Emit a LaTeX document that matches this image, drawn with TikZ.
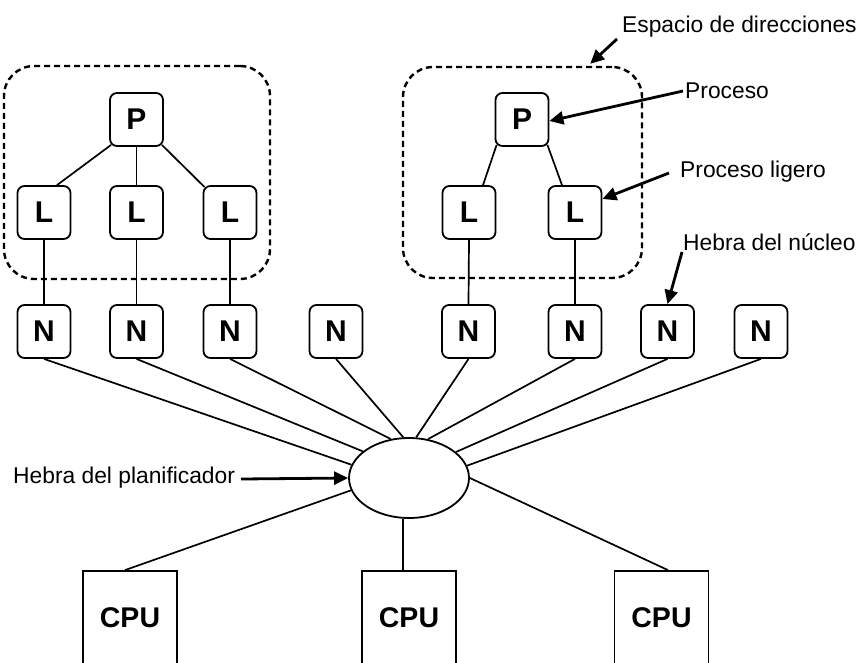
\documentclass[tikz,border=0pt]{standalone}
\usepackage{fontspec}
\setmainfont{Liberation Sans}
\usetikzlibrary{shapes.geometric,arrows.meta,calc}

\begin{document}
\begin{tikzpicture}[x=1pt,y=-1pt,
  wire/.style={line width=1.7pt},
  letterbox/.style={draw, line width=1.8pt, rounded corners=7pt,
    minimum width=53pt, minimum height=53pt, inner sep=0pt,
    font=\bfseries\fontsize{30}{30}\selectfont},
  cpubox/.style={draw, line width=1.8pt, minimum width=94pt,
    minimum height=94pt, inner sep=0pt,
    font=\bfseries\fontsize{28.5}{28.5}\selectfont},
  sched/.style={draw, ellipse, line width=1.8pt, minimum width=120pt,
    minimum height=80pt, inner sep=0pt},
  addrspace/.style={draw, line width=2.4pt, dash pattern=on 6pt off 4pt,
    rounded corners=30pt, inner sep=0pt},
  pointer/.style={line width=2.8pt, -{Triangle[length=14pt,width=13pt]}},
  lbl/.style={anchor=base west, inner sep=0pt,
    font=\fontsize{22.8}{27}\selectfont}
]
\useasboundingbox (0,0) rectangle (862,662);
\clip (0,0) rectangle (862,662);

% address spaces
\node[addrspace, minimum width=266pt, minimum height=213pt] (as1) at (137,172.5) {};
\node[addrspace, minimum width=239pt, minimum height=211pt] (as2) at (522.5,172.5) {};

% processes and light-weight processes
\node[letterbox] (P1) at (136.5,119.5) {P};
\node[letterbox] (L1) at (44,212.5) {L};
\node[letterbox] (L2) at (136.5,212.5) {L};
\node[letterbox] (L3) at (230,212.5) {L};

\node[letterbox] (P2) at (522,119.5) {P};
\node[letterbox] (L4) at (469,212.5) {L};
\node[letterbox] (L5) at (575,212.5) {L};

% kernel threads
\foreach \i/\x in {1/44, 2/136.5, 3/230, 4/336, 5/468.5, 6/575, 7/667.5, 8/761}
  \node[letterbox] (N\i) at (\x,331.5) {N};

% scheduler thread
\node[sched] (ell) at (409,478) {};

% processors
\node[cpubox] (CPU1) at (130,618) {CPU};
\node[cpubox] (CPU2) at (409,618) {CPU};
\node[cpubox] (CPU3) at (661.5,618) {CPU};

% process tree edges
\draw[wire] ([shift={(2pt,2pt)}]P1.south west) -- ([xshift=13pt]L1.north);
\draw[wire] (P1.south) -- (L2.north);
\draw[wire] ([shift={(-2pt,2pt)}]P1.south east) -- ([shift={(2pt,-2pt)}]L3.north west);
\draw[wire] ([shift={(2pt,2pt)}]P2.south west) -- ([xshift=14pt]L4.north);
\draw[wire] ([shift={(-2pt,2pt)}]P2.south east) -- ([xshift=-13pt]L5.north);

% LWP to kernel thread bindings
\draw[wire] (L1.south) -- (N1.north);
\draw[wire] (L2.south) -- (N2.north);
\draw[wire] (L3.south) -- (N3.north);
\draw[wire] (L4.south) -- (N5.north);
\draw[wire] (L5.south) -- (N6.north);

% kernel threads to scheduler
\foreach \i/\a in {1/167.6, 2/150.5, 3/115.4, 4/98, 5/80, 6/64.6, 7/29.5, 8/12.4}
  \draw[wire] (N\i.south) -- (ell.\a);

% scheduler to processors
\draw[wire] (ell.192.4) -- ([xshift=-5pt]CPU1.north);
\draw[wire] ([xshift=-6pt]ell.south) -- ([xshift=-6pt]CPU2.north);
\draw[wire] (ell.east) -- ([xshift=6.5pt]CPU3.north);

% captions
\node[lbl] (tEsp) at (622,32) {Espacio de direcciones};
\node[lbl] (tProc) at (685,98) {Proceso};
\node[lbl] (tLig) at (680,177) {Proceso ligero};
\node[lbl] (tNuc) at (683,250) {Hebra del núcleo};
\node[lbl] (tPlan) at (13,483) {Hebra del planificador};

\coordinate (aEsp) at (617,39);
\coordinate (aProc) at (683,91);
\coordinate (aLig) at (669,173);
\coordinate (aNuc) at (682,252);
\coordinate (aPlan) at (241,479);

\draw[pointer] (aEsp) -- ($(as2.north east)+(-53,-2)$);
\draw[pointer] (aProc) -- ([yshift=-1.5pt]P2.east);
\draw[pointer] (aLig) -- ([yshift=13.5pt]L5.east);
\draw[pointer] (aNuc) -- (N7.north);
\draw[pointer] (aPlan) -- (ell.west);
\end{tikzpicture}
\end{document}
